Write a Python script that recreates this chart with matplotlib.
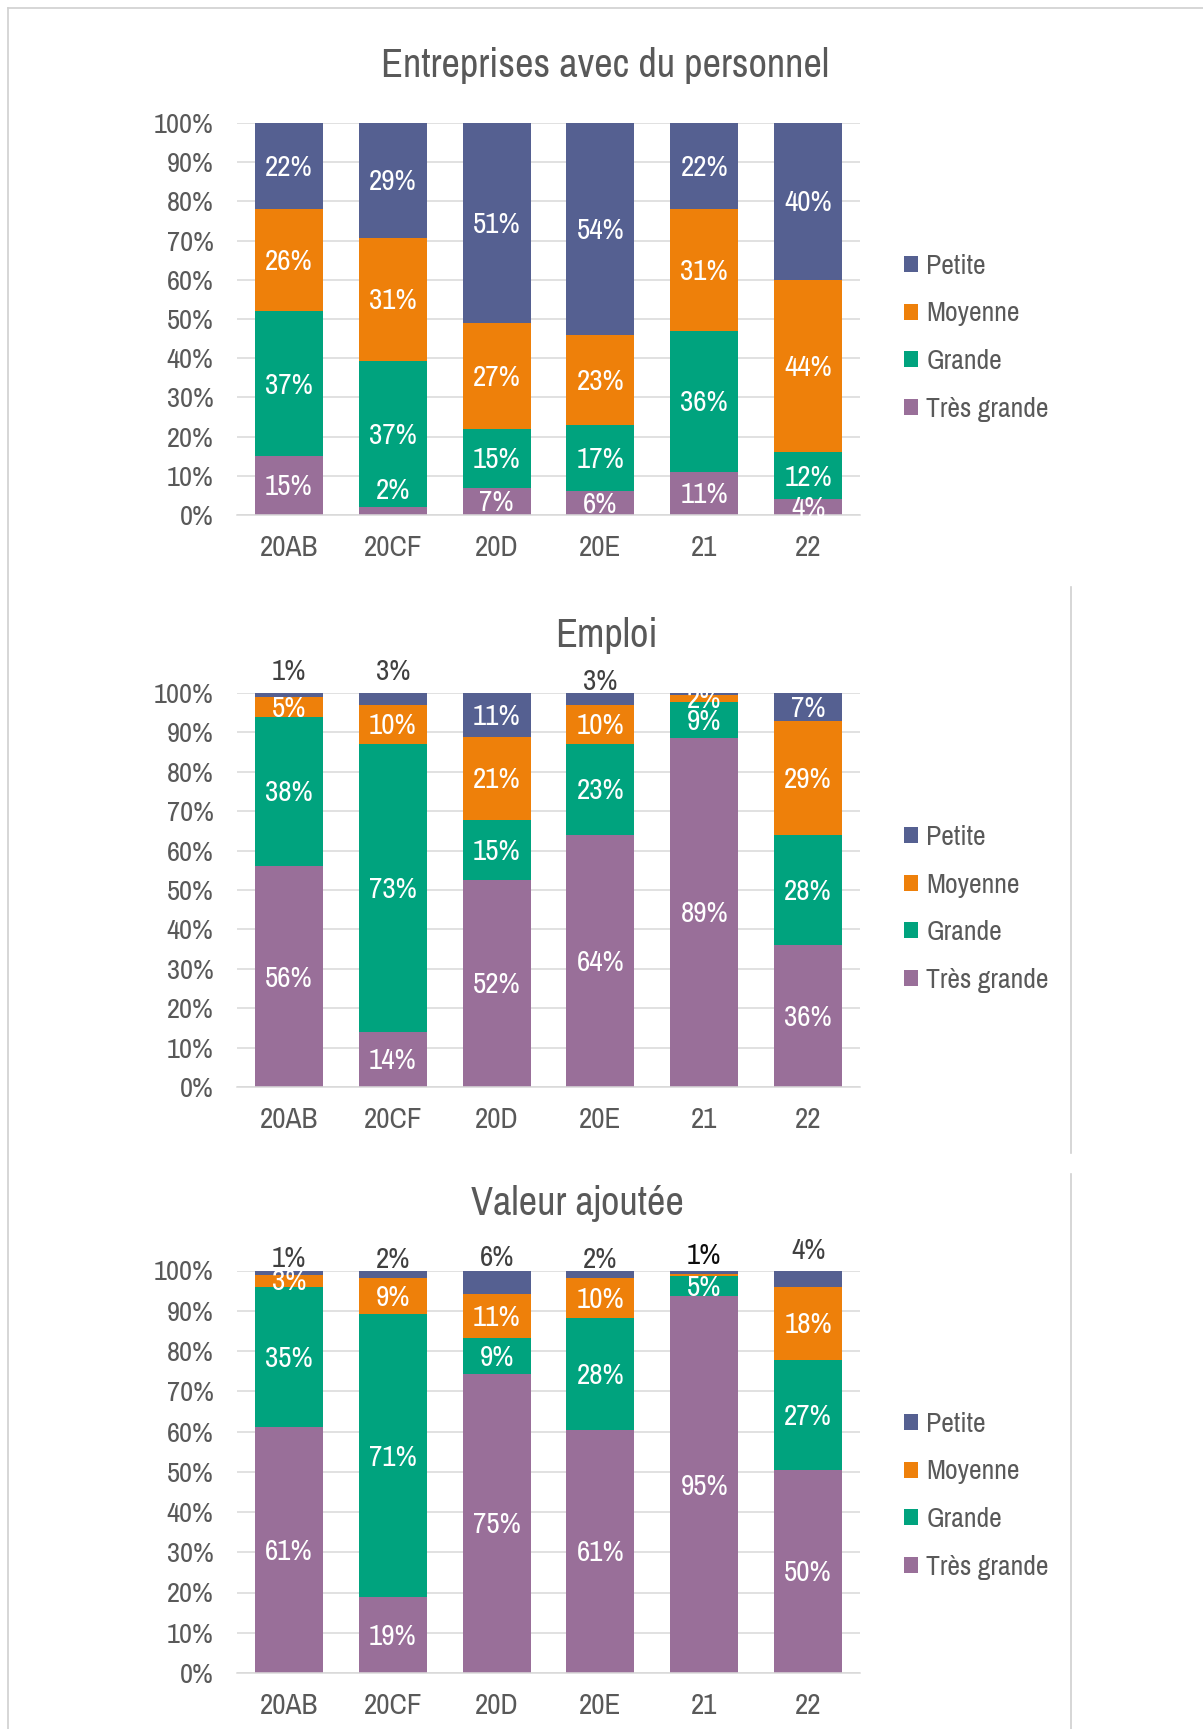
import matplotlib
matplotlib.use("Agg")
import matplotlib.pyplot as plt
import numpy as np
from matplotlib.patches import Patch
from matplotlib.lines import Line2D

# ---- data -------------------------------------------------------------
categories = ["20AB", "20CF", "20D", "20E", "21", "22"]
series_names = ["Très grande", "Grande", "Moyenne", "Petite"]

entreprises_tres_grande = [15, 2, 7, 6, 11, 4]
entreprises_grande = [37, 37, 15, 17, 36, 12]
entreprises_moyenne = [26, 31, 27, 23, 31, 44]
entreprises_petite = [22, 29, 51, 54, 22, 40]

emploi_tres_grande = [56, 14, 52, 64, 89, 36]
emploi_grande = [38, 73, 15, 23, 9, 28]
emploi_moyenne = [5, 10, 21, 10, 2, 29]
emploi_petite = [1, 3, 11, 3, 0.4, 7]

va_tres_grande = [61, 19, 75, 61, 95, 50]
va_grande = [35, 71, 9, 28, 5, 27]
va_moyenne = [3, 9, 11, 10, 0.5, 18]
va_petite = [1, 2, 6, 2, 1, 4]

panel_titles = ["Entreprises avec du personnel", "Emploi", "Valeur ajoutée"]
y_ticks = [0, 10, 20, 30, 40, 50, 60, 70, 80, 90, 100]
y_tick_labels = [f"{t}%" for t in y_ticks]

# ---- style ------------------------------------------------------------
colors = {"Très grande": "#996F99", "Grande": "#00A37E",
          "Moyenne": "#EE800A", "Petite": "#556091"}
TXT = "#595959"
GRID = "#D9D9D9"
NARROW = ["Liberation Sans Narrow", "Archivo Narrow", "DejaVu Sans"]

W, H = 1203, 1729
fig = plt.figure(figsize=(W / 100, H / 100), dpi=100)
fig.patch.set_facecolor("white")

def fx(px):
    return px / W

def fy(py):
    return 1 - py / H

# axes boxes in pixels: (left, right, top, bottom)
boxes = [(237, 860, 123, 515), (237, 860, 693, 1087), (237, 860, 1270.5, 1673)]
title_pos = [(605, 77), (606, 647), (577, 1215)]
legend_top = [254, 825, 1412]

# Petite labels placed above the bar (pixel offset above 100%), None = inside
outside_petite = [
    [None] * 6,
    [21, 21, None, 11.5, None, None],
    [12, 11, 12.5, 11, 14.5, 20],
]
outside_color = [
    ["#404040"] * 6,
    ["#404040"] * 6,
    ["#404040", "#404040", "#404040", "#404040", "#0D0D0D", "#404040"],
]
# vertical nudges (px) for labels of crowded small segments
label_nudge = {(0, 0, 1): -22}

panels = [
    [entreprises_tres_grande, entreprises_grande, entreprises_moyenne, entreprises_petite],
    [emploi_tres_grande, emploi_grande, emploi_moyenne, emploi_petite],
    [va_tres_grande, va_grande, va_moyenne, va_petite],
]

x = np.arange(len(categories))
bar_w = 0.655
LBL = 21
TICK = 20.5

for p, series in enumerate(panels):
    l, r, t, b = boxes[p]
    ax = fig.add_axes([fx(l), fy(b), fx(r - l), (b - t) / H])
    vals = np.array(series, dtype=float)
    shares = vals / vals.sum(axis=0) * 100  # 100 % stacked
    bottom = np.zeros(len(categories))
    for s, name in enumerate(series_names):
        ax.bar(x, shares[s], bar_w, bottom=bottom, color=colors[name],
               zorder=3, linewidth=0)
        for i in range(len(categories)):
            v = vals[s, i]
            if v < 1:
                continue
            lab = f"{int(round(v))}%"
            if name == "Petite" and outside_petite[p][i] is not None:
                ax.annotate(lab, (x[i], 100), xytext=(0, outside_petite[p][i] * 0.72),
                            textcoords="offset points", ha="center", va="center",
                            fontsize=LBL, family=NARROW, color=outside_color[p][i],
                            zorder=5, annotation_clip=False)
            else:
                yc = bottom[i] + shares[s, i] / 2
                nudge = label_nudge.get((p, s, i), 0)
                ax.annotate(lab, (x[i], yc), xytext=(0, -nudge * 0.72 - 1),
                            textcoords="offset points", ha="center", va="center",
                            fontsize=LBL, family=NARROW, color="white", zorder=5,
                            annotation_clip=False)
        bottom += shares[s]

    ax.set_xlim(-0.5, len(categories) - 0.5)
    ax.set_ylim(0, 100)
    ax.set_yticks(y_ticks)
    ax.set_yticklabels(y_tick_labels, family=NARROW, fontsize=TICK, color=TXT)
    ax.set_xticks(x)
    ax.set_xticklabels(categories, family=NARROW, fontsize=LBL, color=TXT)
    ax.tick_params(axis="y", length=0, pad=17)
    ax.tick_params(axis="x", length=0, pad=14)
    ax.yaxis.grid(True, color=GRID, linewidth=1.1, zorder=0)
    ax.set_axisbelow(True)
    for sp in ["top", "right", "left"]:
        ax.spines[sp].set_visible(False)
    ax.spines["bottom"].set_color(GRID)
    ax.spines["bottom"].set_linewidth(1.1)
    ax.spines["bottom"].set_zorder(4)

    tx, ty = title_pos[p]
    fig.text(fx(tx), fy(ty), panel_titles[p], ha="center", va="baseline",
             fontsize=29, family=NARROW, color=TXT)

    handles = [Patch(facecolor=colors[n], edgecolor="none") for n in series_names[::-1]]
    leg = ax.legend(handles, series_names[::-1], loc="upper left",
                    bbox_to_anchor=(fx(904), fy(legend_top[p])),
                    bbox_transform=fig.transFigure, frameon=False,
                    borderpad=0, borderaxespad=0, handlelength=0.5,
                    handleheight=0.5, handletextpad=0.3, labelspacing=0.81,
                    prop={"family": NARROW, "size": 20})
    for txt in leg.get_texts():
        txt.set_color(TXT)

# chart-area borders
border = "#D0D0D0"
fig.add_artist(Line2D([fx(8), 1], [fy(7.5), fy(7.5)], color=border, lw=1.2))
fig.add_artist(Line2D([fx(8), fx(8)], [fy(7.5), 0], color=border, lw=1.2))
fig.add_artist(Line2D([fx(1071), fx(1071)], [fy(587), fy(1153)], color=border, lw=1.2))
fig.add_artist(Line2D([fx(1071), fx(1071)], [fy(1174), 0], color=border, lw=1.2))

fig.savefig("out.png", dpi=100, facecolor="white")
